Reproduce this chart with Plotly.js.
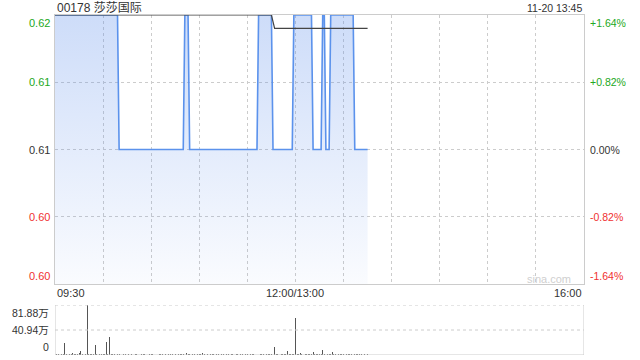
<!DOCTYPE html>
<html><head><meta charset="utf-8">
<script src="https://cdn.plot.ly/plotly-3.0.1.min.js"></script>
<style>html,body{margin:0;padding:0;background:#fff;}#chart{width:640px;height:360px;}</style>
</head><body><div id="chart"></div>
<script>
// Price vertices (minutes since 09:30, trading minutes; 150 = 12:00/13:00)
const priceTimes = [0,39,40,80,81,83,84,126,127,135,136,148,149,160,161,166,167,168,169,171,172,186,187,195];
const priceVals  = [0.62,0.62,0.61,0.61,0.62,0.62,0.61,0.61,0.62,0.62,0.61,0.61,0.62,0.62,0.61,0.61,0.62,0.62,0.61,0.61,0.62,0.62,0.61,0.61];
const avgTimes = [0,135,137,195];
const avgVals  = [0.62,0.62,0.619,0.619];
// Volume per minute (万)
const volumes = [
 67,1.2,1,0.8,1,1.2,19.5,1,0.8,1,
 1.2,3,1,2,1,3.5,6,1,0.8,1,
 81.88,1,1,1.2,1,16,1,0.8,1,1,
 1,1.2,20.7,1,29.4,1.5,1,1.2,0.8,1,
 1,0.8,0,1.2,1,0.8,1,0,1.2,0.8,
 1,1,0.8,0,1,1.2,1,0.8,0,1,
 1,1.2,0.8,1,0,1,1.2,1,0.8,1,
 0,1,1,1.2,0.8,1,0,1,1,1.2,
 1,0.8,4,1,1,0.8,1.2,1,0,1,
 1,1.2,4,1,0.8,1,0,1,1.2,1,
 0.8,1,1,0,1.2,1,0.8,1,1,0,
 1,1.2,0.8,1,1,0,1,1.2,0.8,1,
 1,0,1,1,1.2,0.8,1,0,1,1,
 1.2,0.8,1,1,1,1.5,1,13,1,1,
 0.8,1,1.2,1,1,6,1,1,1.2,1,
 61,1.2,1,3,1,0.8,1,1.2,1,1,
 1,5.5,1,1,1.2,1,1,9,1,0.8,
 1,1.2,1,5.5,1,1,0.8,1,1.2,1,
 1,0.8,1,1.2,1,1,0.8,1,1,1.2,
 1,1,0.8,1,1,1
];
const volTimes = volumes.map((v,i)=>i);
const priceTickVals = [0.60,0.605,0.61,0.615,0.62];
const priceTickText = ['0.60','0.60','0.61','0.61','0.62'];
const pctTickText = ['-1.64%','-0.82%','0.00%','+0.82%','+1.64%'];
const tickColors = ['#f03030','#f03030','#333333','#22a822','#22a822'];
const timeTickVals = [0,150,330];
const timeTickText = ['09:30','12:00/13:00','16:00'];
const volTickVals = [0,40.94,81.88];
const volTickText = ['0','40.94万','81.88万'];

const font = 'Liberation Sans, Arial, Noto Sans CJK SC, sans-serif';
const traces = [
 {x:priceTimes,y:priceVals,type:'scatter',mode:'lines',fill:'tozeroy',
  fillgradient:{type:'vertical',start:0.60,stop:0.62,colorscale:[[0,'rgba(90,140,235,0.03)'],[1,'rgba(90,140,235,0.30)']]},
  line:{color:'#5b92ec',width:1.6},xaxis:'x',yaxis:'y',hoverinfo:'skip'},
 {x:avgTimes,y:avgVals,type:'scatter',mode:'lines',line:{color:'#444',width:1.2},xaxis:'x',yaxis:'y',hoverinfo:'skip'},
 {x:volTimes,y:volumes,type:'bar',marker:{color:'#555',line:{width:0}},width:0.6,xaxis:'x2',yaxis:'y2',hoverinfo:'skip'}
];
const ann = [];
ann.push({text:'00178 莎莎国际',xref:'paper',yref:'paper',x:0,y:(355-8)/340,xanchor:'left',yanchor:'middle',showarrow:false,font:{family:font,size:12,color:'#333'}});
ann.push({text:'11-20 13:45',xref:'paper',yref:'paper',x:1,y:(355-8)/340,xanchor:'right',yanchor:'middle',showarrow:false,font:{family:font,size:10.5,color:'#333'}});
priceTickVals.forEach((v,i)=>{
 const ya = i===0?'bottom':(i===priceTickVals.length-1?'top':'middle');
 ann.push({text:priceTickText[i],xref:'paper',yref:'y',x:0,y:v,xanchor:'right',yanchor:ya,xshift:-3,showarrow:false,font:{family:font,size:11,color:tickColors[i]}});
 ann.push({text:pctTickText[i],xref:'paper',yref:'y',x:1,y:v,xanchor:'left',yanchor:ya,xshift:4,showarrow:false,font:{family:font,size:10.5,color:tickColors[i]}});
});
timeTickVals.forEach((v,i)=>{
 const xa = i===0?'left':(i===timeTickVals.length-1?'right':'center');
 ann.push({text:timeTickText[i],xref:'x',yref:'paper',x:v,y:(355-293)/340,xanchor:xa,yanchor:'middle',showarrow:false,font:{family:font,size:11,color:'#333'}});
});
volTickVals.forEach((v,i)=>{
 const ya = i===0?'bottom':(i===volTickVals.length-1?'top':'middle');
 ann.push({text:volTickText[i],xref:'paper',yref:'y2',x:0,y:v,xanchor:'right',yanchor:ya,xshift:-4,showarrow:false,font:{family:font,size:10.5,color:'#333'}});
});
ann.push({text:'sina.com',xref:'paper',yref:'paper',x:(573-55)/529,y:(355-279)/340,xanchor:'right',yanchor:'middle',showarrow:false,font:{family:font,size:11,color:'#cfcfcf'}});

const shapes = [
 {type:'line',xref:'x2',yref:'y2',x0:0,x1:0,y0:0,y1:81.88,line:{color:'#ccc',width:1}},
 {type:'line',xref:'x2',yref:'y2',x0:330,x1:330,y0:0,y1:81.88,line:{color:'#ccc',width:1}},
 {type:'line',xref:'x2',yref:'y2',x0:0,x1:330,y0:0,y1:0,line:{color:'#ccc',width:1}},
 {type:'line',xref:'x2',yref:'y2',x0:0,x1:330,y0:81.88,y1:81.88,line:{color:'#ccc',width:1,dash:'dot'}},
 {type:'line',xref:'x2',yref:'y2',x0:0,x1:330,y0:40.94,y1:40.94,line:{color:'#ccc',width:1,dash:'dot'}}
];

const layout = {
 width:640,height:360,margin:{l:55,r:56,t:15,b:5},paper_bgcolor:'#fff',plot_bgcolor:'#fff',showlegend:false,
 xaxis:{domain:[0,1],range:[0,330],tickvals:[30,60,90,120,150,180,210,240,270,300],showticklabels:false,ticks:'',showgrid:true,gridcolor:'#cccccc',griddash:'dot',gridwidth:1,zeroline:false,showline:true,mirror:true,linecolor:'#cccccc',linewidth:1,anchor:'y',fixedrange:true},
 yaxis:{domain:[(355-284)/340,1],range:[0.60,0.62],tickvals:[0.605,0.61,0.615],showticklabels:false,ticks:'',showgrid:true,gridcolor:'#cccccc',griddash:'dot',gridwidth:1,zeroline:false,showline:true,mirror:true,linecolor:'#cccccc',linewidth:1,anchor:'x'},
 xaxis2:{domain:[0,1],range:[0,330],showticklabels:false,ticks:'',showgrid:false,zeroline:false,showline:false,anchor:'y2'},
 yaxis2:{domain:[0,50/340],range:[0,81.88],showticklabels:false,ticks:'',showgrid:false,zeroline:false,showline:false,anchor:'x2'},
 annotations:ann,shapes:shapes,bargap:0
};
Plotly.newPlot('chart',traces,layout,{displayModeBar:false,staticPlot:true});
</script></body></html>
